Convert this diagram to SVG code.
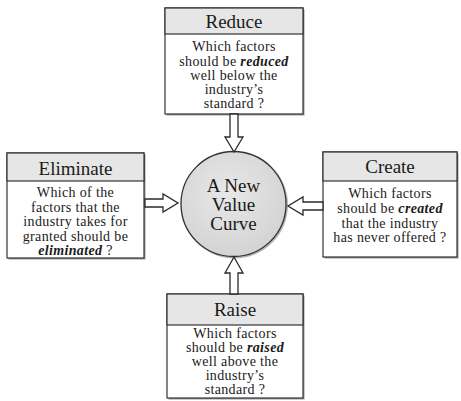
<svg xmlns="http://www.w3.org/2000/svg" width="461" height="401" viewBox="0 0 461 401">
  <style>
    .box { fill: #ffffff; stroke: #333333; stroke-width: 1.2; }
    .shadow { fill: #9a9a9a; }
    .head { fill: #e6e6e6; stroke: #333333; stroke-width: 1.2; }
    .title { font-family: "Liberation Serif", "Times New Roman", serif; font-size: 19px; fill: #1a1a1a; text-anchor: middle; }
    .body { font-family: "Liberation Serif", "Times New Roman", serif; font-size: 14px; letter-spacing: 0.35px; fill: #1a1a1a; text-anchor: middle; }
    .em { font-style: italic; font-weight: bold; }
    .arrow { fill: #ffffff; stroke: #2a2a2a; stroke-width: 1.3; stroke-linejoin: miter; }
  </style>
  <defs>
    <radialGradient id="ballFill" cx="0.45" cy="0.4" r="0.65">
      <stop offset="0" stop-color="#e8e8e8"/>
      <stop offset="1" stop-color="#d2d2d2"/>
    </radialGradient>
  </defs>
  <rect width="461" height="401" fill="#ffffff"/>

  <g id="reduce">
    <rect class="shadow" x="166.5" y="9.5" width="138" height="106"/>
    <rect class="box" x="165" y="8" width="138" height="106"/>
    <rect class="head" x="165" y="8" width="138" height="26"/>
    <text class="title" x="234" y="28">Reduce</text>
    <text class="body" x="234" y="51">Which factors</text>
    <text class="body" x="234" y="65.5">should be <tspan class="em">reduced</tspan></text>
    <text class="body" x="234" y="80">well below the</text>
    <text class="body" x="234" y="94">industry’s</text>
    <text class="body" x="234" y="108">standard ?</text>
  </g>

  <g id="eliminate">
    <rect class="shadow" x="8.5" y="154.5" width="137" height="105"/>
    <rect class="box" x="7" y="153" width="137" height="105"/>
    <rect class="head" x="7" y="153" width="137" height="28"/>
    <text class="title" x="75.5" y="175">Eliminate</text>
    <text class="body" x="75.5" y="197">Which of the</text>
    <text class="body" x="75.5" y="211.5">factors that the</text>
    <text class="body" x="75.5" y="226">industry takes for</text>
    <text class="body" x="75.5" y="240.5">granted should be</text>
    <text class="body" x="75.5" y="255"><tspan class="em">eliminated</tspan> ?</text>
  </g>

  <g id="create">
    <rect class="shadow" x="324.5" y="153.5" width="134" height="105"/>
    <rect class="box" x="323" y="152" width="134" height="105"/>
    <rect class="head" x="323" y="152" width="134" height="29"/>
    <text class="title" x="390" y="173">Create</text>
    <text class="body" x="390" y="198">Which factors</text>
    <text class="body" x="390" y="213">should be <tspan class="em">created</tspan></text>
    <text class="body" x="390" y="227.5">that the industry</text>
    <text class="body" x="390" y="242">has never offered ?</text>
  </g>

  <g id="raise">
    <rect class="shadow" x="168.5" y="295.5" width="136" height="104"/>
    <rect class="box" x="167" y="294" width="136" height="104"/>
    <rect class="head" x="167" y="294" width="136" height="31"/>
    <text class="title" x="235" y="316">Raise</text>
    <text class="body" x="235" y="338">Which factors</text>
    <text class="body" x="235" y="352">should be <tspan class="em">raised</tspan></text>
    <text class="body" x="235" y="366">well above the</text>
    <text class="body" x="235" y="380">industry’s</text>
    <text class="body" x="235" y="394">standard ?</text>
  </g>

  <g id="value-curve">
    <circle cx="234.5" cy="205" r="53.5" fill="#b5b5b5"/>
    <circle cx="233.5" cy="204" r="52.5" fill="url(#ballFill)" stroke="#333333" stroke-width="1.3"/>
    <text class="title" x="233.5" y="192">A New</text>
    <text class="title" x="233.5" y="211">Value</text>
    <text class="title" x="233.5" y="230">Curve</text>
  </g>

  <g id="connectors">
    <!-- Reduce to centre -->
    <path class="arrow" transform="translate(234,114) rotate(90)" d="M0,-4 H23 V-9 L38,0 L23,9 V4 H0 Z"/>
    <!-- Eliminate to centre -->
    <path class="arrow" transform="translate(145,203)" d="M0,-4 H18 V-9 L33,0 L18,9 V4 H0 Z"/>
    <!-- Create to centre -->
    <path class="arrow" transform="translate(323,206) rotate(180)" d="M0,-4 H20 V-9 L35,0 L20,9 V4 H0 Z"/>
    <!-- Raise to centre -->
    <path class="arrow" transform="translate(234,294) rotate(-90)" d="M0,-4 H21 V-9 L37,0 L21,9 V4 H0 Z"/>
  </g>
</svg>
